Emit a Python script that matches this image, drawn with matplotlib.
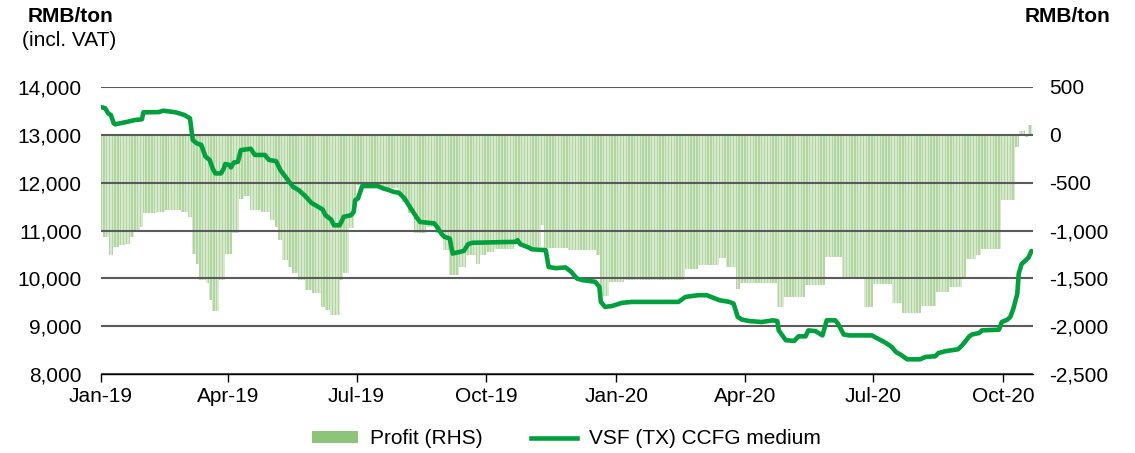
import matplotlib
matplotlib.use("Agg")
import matplotlib.pyplot as plt
import matplotlib.dates as mdates
from matplotlib.patches import Patch
from matplotlib.lines import Line2D
import pandas as pd
import numpy as np

plt.rcParams['font.family'] = ['Liberation Sans', 'DejaVu Sans']

# ---- VSF (TX) CCFG medium price, RMB/ton incl. VAT (left axis)
price_dates = [
    "2019-01-01", "2019-01-04", "2019-01-06", "2019-01-08", "2019-01-10", "2019-01-11", "2019-01-20", "2019-01-25", "2019-01-30", "2019-01-31",
    "2019-02-11", "2019-02-14", "2019-02-23",
    "2019-03-01", "2019-03-05", "2019-03-07", "2019-03-10", "2019-03-13", "2019-03-16", "2019-03-19", "2019-03-21", "2019-03-23", "2019-03-27", "2019-03-29", "2019-03-30",
    "2019-04-02", "2019-04-03", "2019-04-05", "2019-04-08", "2019-04-10", "2019-04-17", "2019-04-20", "2019-04-27", "2019-04-30",
    "2019-05-05", "2019-05-08", "2019-05-12", "2019-05-17", "2019-05-21", "2019-05-25", "2019-05-30",
    "2019-06-03", "2019-06-07", "2019-06-09", "2019-06-13", "2019-06-15", "2019-06-19", "2019-06-22", "2019-06-27", "2019-06-29", "2019-06-30",
    "2019-07-02", "2019-07-05", "2019-07-16", "2019-07-20", "2019-07-24", "2019-07-27", "2019-07-31",
    "2019-08-04", "2019-08-07", "2019-08-10", "2019-08-13", "2019-08-15", "2019-08-25", "2019-08-27", "2019-08-30",
    "2019-09-01", "2019-09-05", "2019-09-07", "2019-09-12", "2019-09-15", "2019-09-18", "2019-09-21",
    "2019-10-22", "2019-10-23", "2019-10-25", "2019-10-31",
    "2019-11-02", "2019-11-12", "2019-11-14", "2019-11-19", "2019-11-26", "2019-11-30",
    "2019-12-04", "2019-12-08", "2019-12-17", "2019-12-20", "2019-12-21", "2019-12-24", "2019-12-29",
    "2020-01-05", "2020-01-12",
    "2020-02-14", "2020-02-19", "2020-02-28",
    "2020-03-05", "2020-03-14", "2020-03-21", "2020-03-24", "2020-03-27", "2020-03-30",
    "2020-04-04", "2020-04-13", "2020-04-21", "2020-04-24", "2020-04-25", "2020-04-30",
    "2020-05-06", "2020-05-09", "2020-05-14", "2020-05-16", "2020-05-21", "2020-05-26", "2020-05-29",
    "2020-06-04", "2020-06-06", "2020-06-10", "2020-06-14", "2020-06-30",
    "2020-07-04", "2020-07-10", "2020-07-14", "2020-07-17", "2020-07-21", "2020-07-25",
    "2020-08-03", "2020-08-07", "2020-08-14", "2020-08-16", "2020-08-21", "2020-08-30",
    "2020-09-02", "2020-09-07", "2020-09-09", "2020-09-14", "2020-09-16", "2020-09-28", "2020-09-30",
    "2020-10-04", "2020-10-06", "2020-10-08", "2020-10-11", "2020-10-12", "2020-10-14", "2020-10-17", "2020-10-19", "2020-10-21",
]
price_values = [
    13580, 13555, 13450, 13415, 13240, 13220, 13275, 13310, 13325, 13470,
    13475, 13505, 13470,
    13415, 13345, 12890, 12820, 12790, 12545, 12475, 12300, 12195, 12195, 12300, 12390,
    12370, 12320, 12420, 12440, 12680, 12710, 12580, 12580, 12475,
    12450, 12265, 12110, 11915, 11845, 11740, 11580,
    11510, 11440, 11320, 11230, 11110, 11110, 11290, 11320, 11390, 11635,
    11670, 11930, 11930, 11880, 11845, 11810, 11790,
    11670, 11530, 11390, 11255, 11180, 11150, 11080, 10940,
    10870, 10835, 10520, 10555, 10575, 10715, 10745,
    10765, 10800, 10715, 10645,
    10610, 10590, 10240, 10215, 10230, 10140,
    10000, 9965, 9930, 9825, 9510, 9405, 9425,
    9490, 9510,
    9510, 9615, 9650,
    9650, 9545, 9510, 9475, 9195, 9140,
    9110, 9090, 9125, 9110, 8915, 8710,
    8695, 8790, 8790, 8915, 8900, 8810, 9125,
    9125, 9055, 8830, 8810, 8810,
    8745, 8650, 8570, 8465, 8395, 8310,
    8310, 8360, 8375, 8440, 8480, 8520,
    8605, 8790, 8830, 8860, 8915, 8930, 9090,
    9140, 9195, 9350, 9680, 10100, 10300, 10380, 10440, 10575,
]

# ---- Profit (RHS), RMB/ton: level in force from each date on
profit_dates = [
    "2019-01-01", "2019-01-03", "2019-01-07", "2019-01-10", "2019-01-14", "2019-01-19", "2019-01-22", "2019-01-25", "2019-01-29", "2019-01-31",
    "2019-02-10", "2019-02-16", "2019-02-27",
    "2019-03-04", "2019-03-07", "2019-03-10", "2019-03-12", "2019-03-17", "2019-03-19", "2019-03-21", "2019-03-26", "2019-03-30",
    "2019-04-04", "2019-04-09", "2019-04-13", "2019-04-17", "2019-04-25",
    "2019-05-01", "2019-05-05", "2019-05-07", "2019-05-10", "2019-05-14", "2019-05-17", "2019-05-21", "2019-05-26", "2019-05-31",
    "2019-06-06", "2019-06-09", "2019-06-13", "2019-06-20", "2019-06-22", "2019-06-26", "2019-06-30",
    "2019-07-01", "2019-07-17", "2019-07-31",
    "2019-08-03", "2019-08-07", "2019-08-11", "2019-08-20", "2019-08-26",
    "2019-09-01", "2019-09-05", "2019-09-12", "2019-09-17", "2019-09-24", "2019-09-27",
    "2019-10-01", "2019-10-07", "2019-10-21", "2019-10-25",
    "2019-11-09", "2019-11-11", "2019-11-28",
    "2019-12-18", "2019-12-21", "2019-12-27",
    "2020-01-07", "2020-02-19", "2020-02-28",
    "2020-03-14", "2020-03-19", "2020-03-26", "2020-03-29",
    "2020-04-24", "2020-04-29", "2020-05-14", "2020-05-28",
    "2020-06-09", "2020-06-25", "2020-07-01", "2020-07-15", "2020-07-22",
    "2020-08-04", "2020-08-15", "2020-08-24",
    "2020-09-02", "2020-09-05", "2020-09-12", "2020-09-16", "2020-09-30",
    "2020-10-10", "2020-10-13", "2020-10-17", "2020-10-19",
]
profit_values = [
    -995, -1065, -1250, -1170, -1150, -1135, -1065, -995, -960, -820,
    -805, -790, -805,
    -855, -1240, -1345, -1515, -1550, -1725, -1840, -1515, -1240,
    -1030, -665, -640, -790, -805,
    -890, -960, -1100, -1310, -1380, -1445, -1515, -1620, -1655,
    -1795, -1830, -1885, -1515, -1445, -975, -700,
    -525, -560, -620,
    -700, -820, -1030, -960, -1030,
    -1200, -1465, -1380, -1260, -1345, -1250,
    -1220, -1190, -1100, -1170,
    -940, -1180, -1200,
    -1260, -1680, -1540,
    -1520, -1400, -1360,
    -1290, -1380, -1610, -1550,
    -1800, -1690, -1570, -1280,
    -1510, -1800, -1560, -1760, -1860,
    -1790, -1640, -1590,
    -1480, -1300, -1250, -1190, -680,
    -130, 40, -20, 100,
]
profit_end = "2020-10-21"

x_start, x_end = "2019-01-01", "2020-10-22"
left_ticks = [8000, 9000, 10000, 11000, 12000, 13000, 14000]
right_ticks = [-2500, -2000, -1500, -1000, -500, 0, 500]
legend_labels = ["Profit (RHS)", "VSF (TX) CCFG medium"]

LINE_C = "#00a03c"
BAR_DARK = "#b2d6a1"
BAR_LIGHT = "#d7eacd"
LEG_BAR_C = "#8cc47a"
GRID_C = "#5a5a5a"
FS = 15

# daily profit series (step levels held until next change)
steps = pd.Series(profit_values, index=pd.to_datetime(profit_dates))
days = pd.date_range(profit_dates[0], profit_end, freq="D")
profit = steps.reindex(days, method="ffill")
bar_colors = [BAR_DARK if i % 2 == 0 else BAR_LIGHT for i in range(len(profit))]

fig = plt.figure(figsize=(11.35, 4.53), dpi=100)
ax = fig.add_axes([0.089, 0.174, 0.821, 0.634])
ax2 = ax.twinx()
ax.set_zorder(2)
ax.patch.set_visible(False)
ax2.set_zorder(1)

ax2.bar(profit.index, profit.values, width=1.0, color=bar_colors,
        linewidth=0, align="center")
ax2.set_ylim(-2500, 500)
ax2.set_yticks(right_ticks)
ax2.set_yticklabels([f"{v:,}" for v in right_ticks], fontsize=FS)
ax2.tick_params(axis="y", length=0, pad=12)

ax.plot(pd.to_datetime(price_dates), price_values, color=LINE_C, lw=3.3,
        solid_joinstyle="round", solid_capstyle="round", zorder=5)
ax.set_ylim(8000, 14000)
ax.set_yticks(left_ticks)
ax.set_yticklabels([f"{v:,}" for v in left_ticks], fontsize=FS)
ax.tick_params(axis="y", length=0, pad=14)
ax.grid(axis="y", color=GRID_C, lw=1.5, zorder=1)
ax.set_axisbelow(False)

ax.set_xlim(pd.Timestamp(x_start), pd.Timestamp(x_end))
ax.xaxis.set_major_locator(mdates.MonthLocator(bymonth=[1, 4, 7, 10]))
ax.xaxis.set_major_formatter(mdates.DateFormatter("%b-%y"))
ax.tick_params(axis="x", labelsize=FS, length=6, width=1, direction="out",
               color="black", pad=3)

for a in (ax, ax2):
    for s in ("top", "left", "right", "bottom"):
        a.spines[s].set_visible(False)
ax.spines["bottom"].set_visible(True)
ax.spines["bottom"].set_color("black")
ax.spines["bottom"].set_linewidth(1.0)
ax.spines["bottom"].set_zorder(6)

fig.text(28 / 1135, 1 - 17 / 453, "RMB/ton", fontsize=FS, fontweight="bold",
         ha="left", va="center")
fig.text(22 / 1135, 1 - 41 / 453, "(incl. VAT)", fontsize=FS,
         ha="left", va="center")
fig.text(1110 / 1135, 1 - 17 / 453, "RMB/ton", fontsize=FS, fontweight="bold",
         ha="right", va="center")

handles = [Patch(facecolor=LEG_BAR_C, edgecolor="none"),
           Line2D([0], [0], color=LINE_C, lw=3.3)]
fig.legend(handles, legend_labels, loc="center", ncol=2, frameon=False,
           bbox_to_anchor=(0.499, 1 - 439 / 453), fontsize=FS,
           handlelength=2.2, handleheight=0.5, handletextpad=0.6,
           columnspacing=2.3)

fig.savefig("out.png", dpi=100)
